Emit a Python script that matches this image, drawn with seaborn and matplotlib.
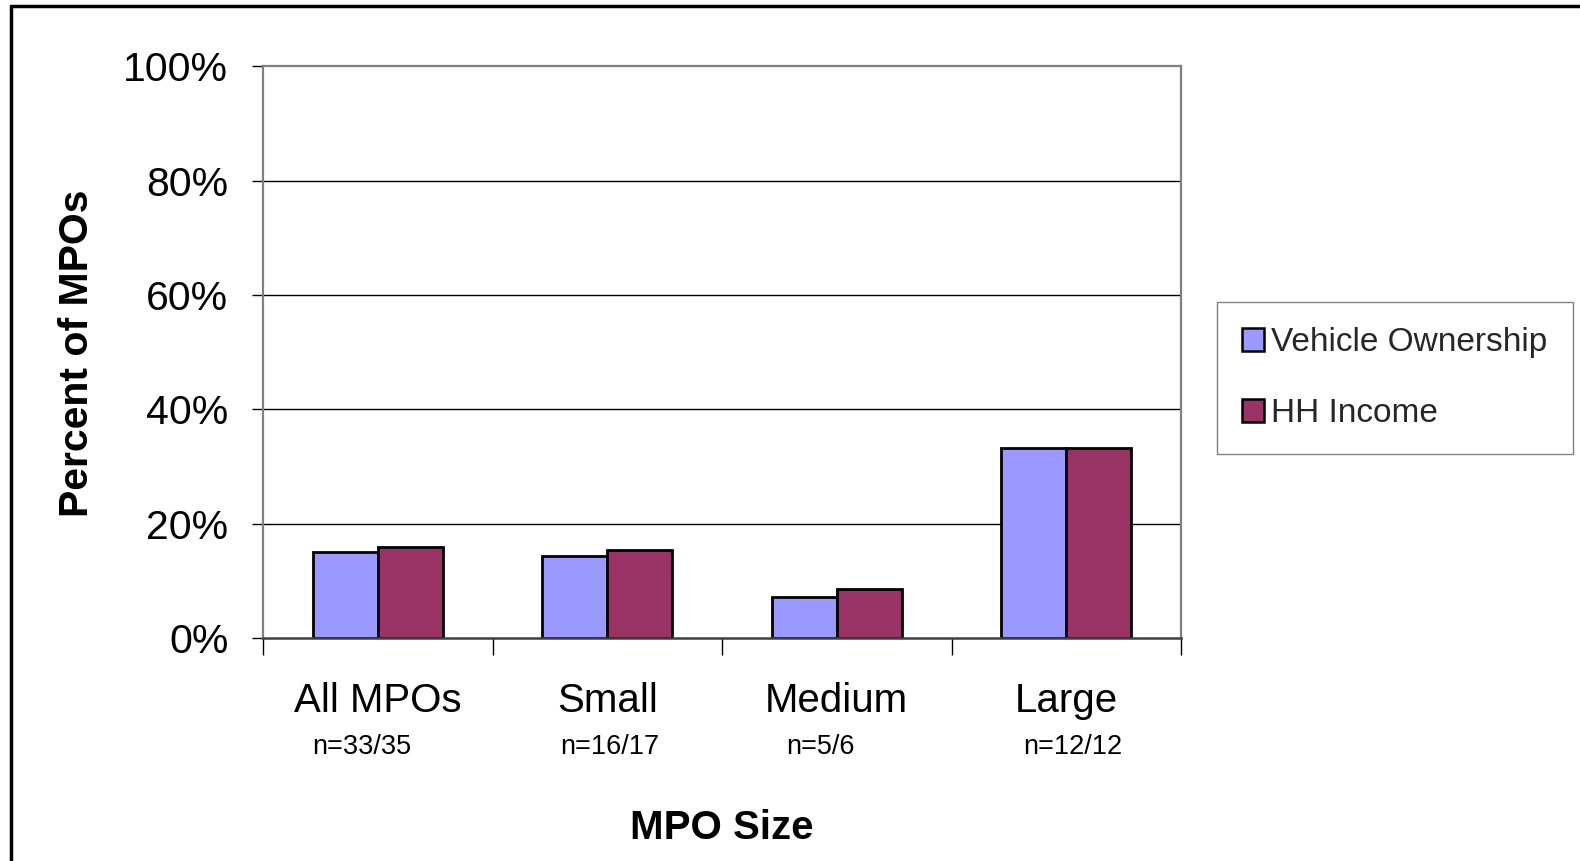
import matplotlib
matplotlib.use("Agg")
import matplotlib.pyplot as plt
from matplotlib.lines import Line2D
from matplotlib.ticker import FixedLocator, PercentFormatter
import seaborn as sns
import pandas as pd

# Chart data
categories = ["All MPOs", "Small", "Medium", "Large"]
sample_sizes = ["n=33/35", "n=16/17", "n=5/6", "n=12/12"]
vehicle_ownership = [15.0, 14.4, 7.2, 33.3]
hh_income = [15.9, 15.4, 8.6, 33.3]
series_names = ["Vehicle Ownership", "HH Income"]
y_ticks = [0, 20, 40, 60, 80, 100]

# Layout: small horizontal nudges of the sample-size labels (category units)
n_label_shift = [-0.07, 0.01, -0.07, 0.03]

df = pd.DataFrame({
    "MPO Size": categories * 2,
    "Percent": vehicle_ownership + hh_income,
    "Series": [series_names[0]] * len(categories) + [series_names[1]] * len(categories),
})

sns.set_theme(style="white")
plt.rcParams["font.family"] = ["Liberation Sans", "DejaVu Sans"]

fig = plt.figure(figsize=(15.8, 8.61), dpi=100)
ax = fig.add_axes([0.1665, 0.259, 0.581, 0.664])

sns.barplot(
    data=df, x="MPO Size", y="Percent", hue="Series",
    palette=["#9999FF", "#993366"], width=0.567, gap=0,
    edgecolor="black", linewidth=2.0, saturation=1, ax=ax,
    errorbar=None, legend=True,
)

ax.set_ylim(0, 100)
ax.set_xlim(-0.5, len(categories) - 0.5)
ax.yaxis.set_major_locator(FixedLocator(y_ticks))
ax.yaxis.set_major_formatter(PercentFormatter(decimals=0))
for y in y_ticks[1:-1]:
    ax.axhline(y, color="black", lw=1.0, zorder=0)

# spines
for side in ["left", "right", "top"]:
    ax.spines[side].set_visible(True)
    ax.spines[side].set_color("#808080")
    ax.spines[side].set_linewidth(1.6)
ax.spines["bottom"].set_color("#404040")
ax.spines["bottom"].set_linewidth(1.8)

# y ticks
ax.tick_params(axis="y", which="major", direction="out", length=8, width=1,
               color="black", left=True, labelsize=29.5, pad=17, labelcolor="black")

# x: tick marks between categories, labels at category centres
ax.set_xticks(range(len(categories)))
ax.set_xticklabels([])
ax.tick_params(axis="x", which="major", length=0)
ax.set_xticks([i - 0.5 for i in range(len(categories) + 1)], minor=True)
ax.tick_params(axis="x", which="minor", direction="out", length=12, width=1,
               color="black", bottom=True)

xtr = ax.get_xaxis_transform()
for i, (cat, n) in enumerate(zip(categories, sample_sizes)):
    ax.text(i, -0.110, cat, transform=xtr, ha="center", va="center",
            fontsize=29, color="black")
    ax.text(i + n_label_shift[i], -0.190, n, transform=xtr, ha="center",
            va="center", fontsize=19.5, color="black")

ax.set_xlabel("")
ax.set_ylabel("")
fig.text(722 / 1580, 1 - 828 / 861, "MPO Size", ha="center", va="center",
         fontsize=29, fontweight="bold", color="black")
fig.text(77 / 1580, 1 - 353 / 861, "Percent of MPOs", ha="center", va="center",
         rotation=90, fontsize=29.5, fontweight="bold", color="black")

# legend
handles, labels = ax.get_legend_handles_labels()
leg = ax.legend(
    handles, labels, loc="upper left",
    bbox_to_anchor=(1217 / 1580, 1 - 302 / 861), bbox_transform=fig.transFigure,
    fontsize=24, frameon=True, fancybox=False, borderpad=0.75,
    labelspacing=1.2, handlelength=0.66, handleheight=0.66, handletextpad=0.22,
    borderaxespad=0,
)
leg.get_frame().set_edgecolor("#606060")
leg.get_frame().set_linewidth(1.0)
for h in leg.legend_handles:
    h.set_edgecolor("black")
    h.set_linewidth(1.8)

# outer frame (top and left edges)
fig.add_artist(Line2D([11 / 1580, 1], [1 - 6 / 861, 1 - 6 / 861],
                      transform=fig.transFigure, color="black", lw=2.5))
fig.add_artist(Line2D([11 / 1580, 11 / 1580], [0, 1 - 6 / 861],
                      transform=fig.transFigure, color="black", lw=2.5))

fig.savefig("out.png", dpi=100, facecolor="white")
